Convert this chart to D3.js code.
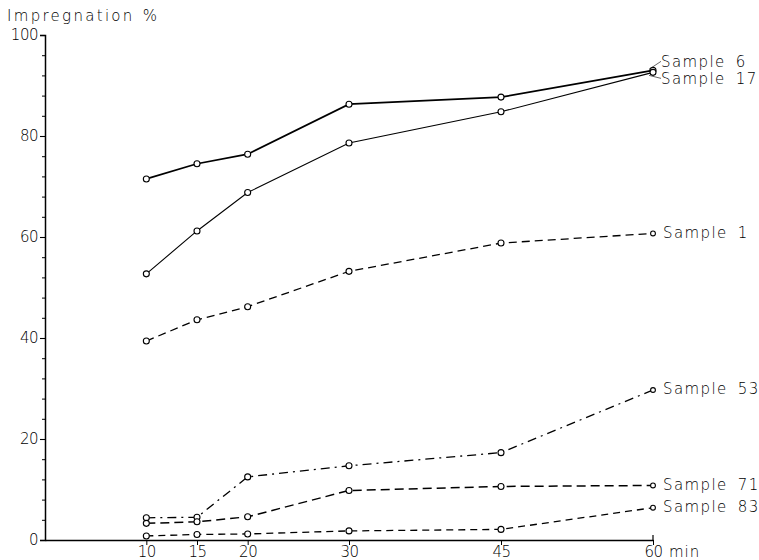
<!DOCTYPE html>
<html>
<head>
<meta charset="utf-8">
<script src="https://cdn.jsdelivr.net/npm/d3@7"></script>
<style>
  html, body { margin: 0; padding: 0; background: #fff; }
  svg text { font-family: "DejaVu Sans", sans-serif; font-weight: 200; fill: #000; }
</style>
</head>
<body>
<svg id="chart" width="759" height="560"></svg>
<script>
// Impregnation over time (minutes) for six samples
const times = [10, 15, 20, 30, 45, 60];
const sample6  = [71.5, 74.5, 76.4, 86.3, 87.7, 93.0];
const sample17 = [52.7, 61.2, 68.8, 78.6, 84.8, 92.6];
const sample1  = [39.4, 43.6, 46.2, 53.2, 58.8, 60.7];
const sample53 = [4.4, 4.5, 12.5, 14.7, 17.3, 29.7];
const sample71 = [3.3, 3.6, 4.6, 9.8, 10.6, 10.8];
const sample83 = [0.8, 1.1, 1.2, 1.8, 2.1, 6.4];

const seriesNames = ["Sample 6", "Sample 17", "Sample 1", "Sample 53", "Sample 71", "Sample 83"];
const seriesValues = [sample6, sample17, sample1, sample53, sample71, sample83];

const yTickLabels = [0, 20, 40, 60, 80, 100];
const xTickLabels = ["10", "15", "20", "30", "45", "60"];

// line styles per series
const styles = {
  "Sample 6":  { width: 1.7, dash: null },
  "Sample 17": { width: 1.1, dash: null },
  "Sample 1":  { width: 1.3, dash: "8,5" },
  "Sample 53": { width: 1.3, dash: "9,5,2,5" },
  "Sample 71": { width: 1.5, dash: "9,5" },
  "Sample 83": { width: 1.3, dash: "7,5" }
};

const svg = d3.select("#chart");
const x = d3.scaleLinear().domain([0, 60]).range([45, 653]);
const y = d3.scaleLinear().domain([0, 100]).range([540, 35]);

function styleTickText(sel) {
  sel.attr("font-size", 15).attr("font-family", "DejaVu Sans").attr("font-weight", 200)
    .attr("fill", "#000").attr("letter-spacing", -0.5);
}

// y axis: major ticks every 20, minor every 4
const yAxisMajor = d3.axisLeft(y).tickValues(yTickLabels).tickSize(5).tickPadding(2);
const yG = svg.append("g").attr("transform", `translate(${x(0)},0)`).call(yAxisMajor);
yG.select(".domain").attr("stroke", "#000").attr("stroke-width", 1.5);
yG.selectAll(".tick line").attr("stroke", "#000").attr("stroke-width", 1.1);
yG.selectAll(".tick text").call(styleTickText);

const yMinor = d3.axisLeft(y).tickValues(d3.range(0, 101, 4).filter(v => v % 20 !== 0)).tickSize(3).tickFormat("");
const yMinorG = svg.append("g").attr("transform", `translate(${x(0)},0)`).call(yMinor);
yMinorG.select(".domain").remove();
yMinorG.selectAll(".tick line").attr("stroke", "#000").attr("stroke-width", 1);

// x axis: line up to 60 min, ticks below at measured times
const xAxis = d3.axisBottom(x).tickValues(times).tickFormat((d, i) => xTickLabels[i]).tickSize(5).tickSizeOuter(0).tickPadding(1);
const xG = svg.append("g").attr("transform", `translate(0,${y(0)})`).call(xAxis);
xG.select(".domain").attr("stroke", "#000").attr("stroke-width", 1.5);
xG.selectAll(".tick line").attr("stroke", "#000").attr("stroke-width", 1);
xG.selectAll(".tick text").call(styleTickText);
// small upturn at the axis end
svg.append("line").attr("x1", x(60)).attr("x2", x(60)).attr("y1", y(0)).attr("y2", y(0) - 5)
  .attr("stroke", "#000").attr("stroke-width", 1.2);

svg.append("text").attr("x", x(60) + 16).attr("y", 557).attr("font-size", 15)
  .attr("letter-spacing", 1).text("min");

// axis title
svg.append("text").attr("x", 7).attr("y", 21).attr("font-size", 15)
  .attr("letter-spacing", 2.3).attr("word-spacing", 1).text("Impregnation %");

// series lines and markers
const line = d3.line().x((d, i) => x(times[i])).y(d => y(d));

seriesNames.forEach((name, k) => {
  const vals = seriesValues[k];
  const st = styles[name];
  svg.append("path").datum(vals)
    .attr("d", line)
    .attr("fill", "none")
    .attr("stroke", "#000")
    .attr("stroke-width", st.width)
    .attr("stroke-dasharray", st.dash);
  svg.append("g").selectAll("circle").data(vals).join("circle")
    .attr("cx", (d, i) => x(times[i]))
    .attr("cy", d => y(d))
    .attr("r", (d, i) => (i === vals.length - 1 && k >= 2) ? 2.4 : 3)
    .attr("fill", "#fff")
    .attr("stroke", "#000")
    .attr("stroke-width", 1.1);
});

// end labels
const labelOffsets = { "Sample 6": -9, "Sample 17": 6 };
seriesNames.forEach((name, k) => {
  const vals = seriesValues[k];
  const px = x(times[times.length - 1]);
  const py = y(vals[vals.length - 1]);
  const off = labelOffsets[name];
  if (off !== undefined) {
    // thin leader from marker to label
    svg.append("line").attr("x1", px - 4).attr("y1", py + (off < 0 ? -1 : 3))
      .attr("x2", px + 8).attr("y2", py + off)
      .attr("stroke", "#222").attr("stroke-width", 0.7);
    svg.append("text").attr("x", px + 8).attr("y", py + off)
      .attr("dy", "0.35em").attr("font-size", 15).attr("letter-spacing", 1.4)
      .attr("word-spacing", 4).text(name);
  } else {
    svg.append("text").attr("x", px + 10).attr("y", py - 1)
      .attr("dy", "0.35em").attr("font-size", 15).attr("letter-spacing", 1.4)
      .attr("word-spacing", 4).text(name);
  }
});
</script>
</body>
</html>
